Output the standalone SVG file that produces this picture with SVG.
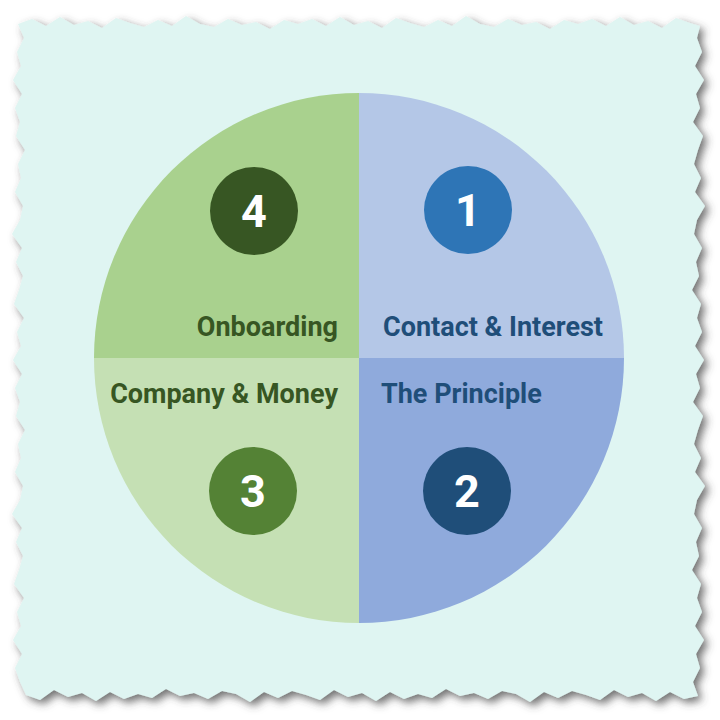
<svg xmlns="http://www.w3.org/2000/svg" width="720" height="720" viewBox="0 0 720 720">
<defs>
<filter id="shadow" x="-10%" y="-10%" width="120%" height="120%">
<feDropShadow dx="4" dy="4" stdDeviation="4" flood-color="#404040" flood-opacity="0.75"/>
</filter>
</defs>
<style>
.lbl{font-family:Roboto,"Liberation Sans",sans-serif;font-weight:700;font-size:27px}
.num{font-family:Roboto,"Liberation Sans",sans-serif;font-weight:700;font-size:45px;fill:#ffffff;text-anchor:middle}
.g{fill:#375623}
.b{fill:#1f4e79}
</style>
<rect width="720" height="720" fill="#ffffff"/>
<path id="paper" filter="url(#shadow)" fill="#dff5f2" d="M18,24 32,19 46,26 60,17 74,25 88,21 102,28 116,18 130,23 144,27 158,20 172,26 186,16 200,24 214,27 228,19 242,25 256,22 270,29 284,20 298,24 312,19 326,26 340,17 354,25 368,21 382,28 396,18 410,23 424,27 438,20 452,26 466,16 480,24 494,27 508,19 522,25 536,22 550,29 564,20 578,24 592,19 606,26 620,17 634,25 648,21 662,28 676,18 690,23 700,26 697,38 702,52 695,66 704,80 696,94 700,108 693,122 703,136 698,150 694,164 701,178 695,192 705,206 697,220 694,234 702,248 696,262 699,276 692,290 701,304 697,318 702,332 695,346 704,360 696,374 700,388 693,402 703,416 698,430 694,444 701,458 695,472 705,486 697,500 694,514 702,528 696,542 699,556 692,570 701,584 697,598 702,612 695,626 704,640 696,654 700,668 693,682 698,696 684,699 670,692 656,701 642,693 628,697 614,690 600,700 586,695 572,691 558,698 544,692 530,702 516,694 502,691 488,699 474,693 460,696 446,689 432,698 418,694 404,699 390,692 376,701 362,693 348,697 334,690 320,700 306,695 292,691 278,698 264,692 250,702 236,694 222,691 208,699 194,693 180,696 166,689 152,698 138,694 124,699 110,692 96,701 82,693 68,697 54,690 40,700 26,695 20,682 15,668 22,654 13,640 21,626 17,612 24,598 14,584 19,570 23,556 16,542 22,528 12,514 20,500 23,486 15,472 21,458 18,444 25,430 16,416 20,402 15,388 22,374 13,360 21,346 17,332 24,318 14,304 19,290 23,276 16,262 22,248 12,234 20,220 23,206 15,192 21,178 18,164 25,150 16,136 20,122 15,108 22,94 13,80 21,66 17,52 24,38 Z"/>
<g id="q1">
<path fill="#b4c7e7" d="M359,358 L359,93 A265,265 0 0 1 624,358 Z"/>
<circle cx="468" cy="210" r="44" fill="#2e75b6"/>
<text class="num" x="468" y="226">1</text>
<text class="lbl b" x="383" y="336">Contact &amp; Interest</text>
</g>
<g id="q2">
<path fill="#8faadc" d="M359,358 L624,358 A265,265 0 0 1 359,623 Z"/>
<circle cx="467" cy="491" r="44" fill="#1f4e79"/>
<text class="num" x="467" y="507">2</text>
<text class="lbl b" x="381" y="403">The Principle</text>
</g>
<g id="q3">
<path fill="#c5e0b4" d="M359,358 L359,623 A265,265 0 0 1 94,358 Z"/>
<circle cx="253" cy="491" r="44" fill="#548235"/>
<text class="num" x="253" y="507">3</text>
<text class="lbl g" x="338" y="403" text-anchor="end">Company &amp; Money</text>
</g>
<g id="q4">
<path fill="#a9d18e" d="M359,358 L94,358 A265,265 0 0 1 359,93 Z"/>
<circle cx="254" cy="211" r="44" fill="#375623"/>
<text class="num" x="254" y="227">4</text>
<text class="lbl g" x="338" y="336" text-anchor="end">Onboarding</text>
</g>
<g id="connectors"/>
</svg>
